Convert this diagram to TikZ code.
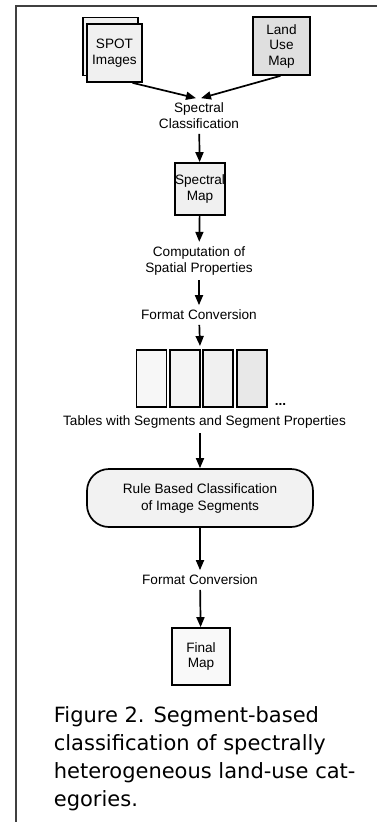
\documentclass[tikz,border=0pt]{standalone}
\usepackage{fontspec}
\setmainfont{Liberation Sans}
\newfontfamily\capfont{DejaVu Sans}
\usetikzlibrary{arrows.meta}
\begin{document}
\begin{tikzpicture}[x=1pt,y=-1pt,>={Triangle[length=10pt,width=8pt]},line width=1.7pt]
  \tikzstyle{box}=[draw, fill=gray!12, inner sep=0pt, align=center, font=\fontsize{13.6}{15.5}\selectfont]
  \tikzstyle{lbl}=[inner sep=4pt, align=center, font=\fontsize{13.6}{16}\selectfont]
  \tikzstyle{tab}=[draw, minimum width=30pt, minimum height=57pt, inner sep=0pt]

  \useasboundingbox (0,0) rectangle (377,822);
  \draw[black!75, line width=1.5pt] (377,6) -- (16,6) -- (16,822);

  \node[box, minimum width=55pt, minimum height=58pt] (spotback) at (110.5,46.5) {};
  \node[box, minimum width=55pt, minimum height=58pt] (spot) at (114.5,53) {SPOT\\Images};
  \node[box, fill=gray!25, minimum width=57pt, minimum height=58pt] (land) at (281.5,46) {Land\\Use\\Map};
  \node[lbl] (specclass) at (199,116) {Spectral\\Classification};
  \node[box, minimum width=50pt, minimum height=52pt] (specmap) at (200,189) {Spectral\\Map};
  \node[lbl] (spatial) at (199,261) {Computation of\\Spatial Properties};
  \node[lbl] (format1) at (199,315) {Format Conversion};

  \node[tab, fill=gray!6] (t1) at (151.5,378.5) {};
  \node[tab, fill=gray!9] (t2) at (185,378.5) {};
  \node[tab, fill=gray!12] (t3) at (218,378.5) {};
  \node[tab, fill=gray!18] (t4) at (252,378.5) {};
  \node[anchor=base west, inner sep=0pt, font=\fontsize{13.6}{16}\selectfont\bfseries] (dots) at (274,405) {...};
  \coordinate (tabtop) at (200,346);
  \node[lbl] (tablbl) at (204.5,422) {Tables with Segments and Segment Properties};

  \node[box, rounded corners=22pt, minimum width=226pt, minimum height=58pt, fill=gray!10,
    font=\fontsize{13.6}{17}\selectfont] (rule) at (200,498) {Rule Based Classification\\of Image Segments};
  \node[lbl] (format2) at (200,580) {Format Conversion};
  \node[box, fill=gray!5, minimum width=58pt, minimum height=57pt] (final) at (201,656.5) {Final\\Map};

  \node[anchor=north west, align=left, inner sep=0pt, font=\capfont\fontsize{21}{28}\selectfont]
    (caption) at (53,706) {Figure 2. Segment-based\\classification of spectrally\\heterogeneous land-use cat-\\egories.};

  \draw[->] ([xshift=18pt]spot.south) -- ([xshift=-3pt]specclass.north);
  \draw[->] ([xshift=-1pt]land.south) -- ([xshift=2pt]specclass.north);
  \draw[->] (specclass) -- (specmap);
  \draw[->] (specmap) -- (spatial);
  \draw[->] (spatial) -- (format1);
  \draw[->] (format1) -- (tabtop);
  \draw[->] (tablbl.south -| rule.north) -- (rule.north);
  \draw[->] (rule) -- (format2);
  \draw[->] (format2) -- (final);
\end{tikzpicture}
\end{document}
